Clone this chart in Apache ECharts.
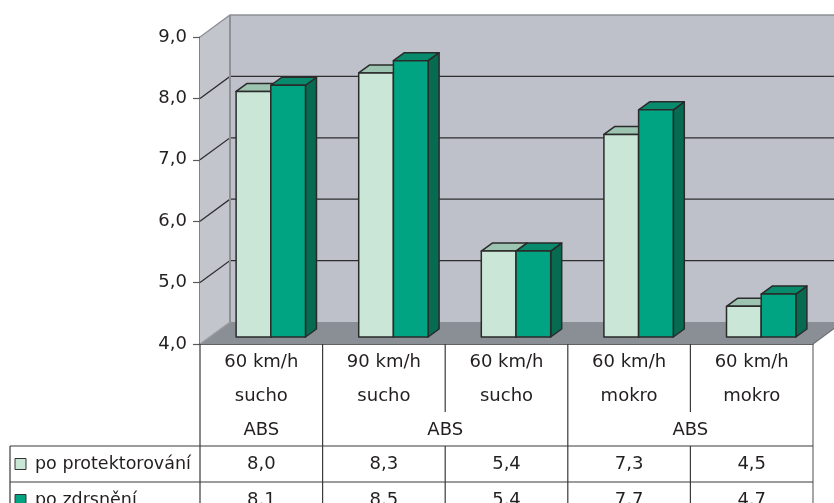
<!DOCTYPE html>
<html>
<head>
<meta charset="utf-8">
<script src="https://cdn.jsdelivr.net/npm/echarts@6/dist/echarts.min.js"></script>
<style>
  html, body { margin: 0; padding: 0; background: #ffffff; }
  #chart { width: 834px; height: 503px; }
</style>
</head>
<body>
<div id="chart"></div>
<script>
// Braking test results: five test conditions, two tyre states
const speeds = ['60 km/h', '90 km/h', '60 km/h', '60 km/h', '60 km/h'];
const surfaces = ['sucho', 'sucho', 'sucho', 'mokro', 'mokro'];
// ABS label spans (first and last category index of each group)
const absGroups = [[0, 0], [1, 2], [3, 4]];
const absLabel = 'ABS';
const seriesNames = ['po protektorování', 'po zdrsnění'];
const afterRetread = [8.0, 8.3, 5.4, 7.3, 4.5];
const afterRoughening = [8.1, 8.5, 5.4, 7.7, 4.7];
const yTicks = [4, 5, 6, 7, 8, 9];

const FONT = '"DejaVu Sans", Verdana, sans-serif';
const TEXT_COLOR = '#231f20';
const EDGE = '#2a2a2a';

// 3D look: wall depth and bar placement within that depth (pixels)
const WALL_DX = 30, WALL_DY = -22;
const BAR_DX = 9.5, BAR_DY = -7;
const BAR_DEPTH_X = 11, BAR_DEPTH_Y = -8;
const BAR_RATIO = 0.283;

const palettes = [
  { front: '#c9e6d6', top: '#9dc4b0', side: '#85b39c', key: '#c9e6d6' },
  { front: '#00a482', top: '#078b6c', side: '#066b51', key: '#00a482' }
];

const fmt = v => v.toFixed(1).replace('.', ',');

function wallsItem(params, api) {
  const cs = params.coordSys;
  const x = cs.x, y = cs.y, w = cs.width, h = cs.height;
  const dx = WALL_DX, dy = WALL_DY;
  const children = [];
  // back wall
  children.push({ type: 'polygon', shape: { points: [[x + dx, y + dy], [x + w + dx, y + dy], [x + w + dx, y + h + dy], [x + dx, y + h + dy]] },
    style: { fill: '#bfc1ca', stroke: null } });
  // left side wall
  children.push({ type: 'polygon', shape: { points: [[x, y], [x + dx, y + dy], [x + dx, y + h + dy], [x, y + h]] },
    style: { fill: '#c3c5cd', stroke: null } });
  // floor
  children.push({ type: 'polygon', shape: { points: [[x, y + h], [x + dx, y + h + dy], [x + w + dx, y + h + dy], [x + w, y + h]] },
    style: { fill: '#8a8f96', stroke: null } });
  // gridlines across side wall and back wall
  const top = yTicks[yTicks.length - 1];
  yTicks.forEach(t => {
    if (t === yTicks[0]) return;
    const py = api.coord([0, t])[1];
    const color = t === top ? '#8d9095' : '#2e2e2e';
    children.push({ type: 'polyline', shape: { points: [[x, py], [x + dx, py + dy], [x + w + dx, py + dy]] },
      style: { stroke: color, lineWidth: 1.3, fill: null } });
  });
  // back-left corner edge
  children.push({ type: 'line', shape: { x1: x + dx, y1: y + dy, x2: x + dx, y2: y + h + dy },
    style: { stroke: '#8d9095', lineWidth: 2 } });
  // floor side edges
  children.push({ type: 'line', shape: { x1: x, y1: y + h, x2: x + dx, y2: y + h + dy },
    style: { stroke: '#9a9da2', lineWidth: 1.2 } });
  children.push({ type: 'line', shape: { x1: x + w, y1: y + h, x2: x + w + dx, y2: y + h + dy },
    style: { stroke: '#6f7277', lineWidth: 1.2 } });
  return { type: 'group', children };
}

function barRenderer(slot) {
  const pal = palettes[slot];
  return function (params, api) {
    const cat = api.value(0), v = api.value(1);
    const topPt = api.coord([cat, v]);
    const basePt = api.coord([cat, yTicks[0]]);
    const band = api.size([1, 0])[0];
    const bw = band * BAR_RATIO;
    const x0 = topPt[0] - bw + slot * bw + BAR_DX;
    const x1 = x0 + bw;
    const yT = topPt[1] + BAR_DY;
    const yB = basePt[1] + BAR_DY;
    const ddx = BAR_DEPTH_X, ddy = BAR_DEPTH_Y;
    const st = { stroke: EDGE, lineWidth: 1.5, lineJoin: 'round' };
    return {
      type: 'group',
      children: [
        { type: 'polygon', shape: { points: [[x1, yT], [x1 + ddx, yT + ddy], [x1 + ddx, yB + ddy], [x1, yB]] },
          style: Object.assign({ fill: pal.side }, st) },
        { type: 'polygon', shape: { points: [[x0, yT], [x0 + ddx, yT + ddy], [x1 + ddx, yT + ddy], [x1, yT]] },
          style: Object.assign({ fill: pal.top }, st) },
        { type: 'rect', shape: { x: x0, y: yT, width: bw, height: yB - yT },
          style: Object.assign({ fill: pal.front }, st) }
      ]
    };
  };
}

function tableItem(params, api) {
  const cs = params.coordSys;
  const x = cs.x, w = cs.width;
  const y0 = cs.y + cs.height;          // top of the table = category axis line
  const band = w / speeds.length;
  const headerH = 102, splitH = 68, rowH = 36, lineH = 34;
  const left = 10;
  const bottom = y0 + headerH + rowH * 2;
  const ln = { stroke: '#3a3a3a', lineWidth: 1.2 };
  const children = [];
  const txt = (s, tx, ty, align, size) => ({ type: 'text',
    style: { text: s, x: tx, y: ty, font: (size || 18) + 'px ' + FONT, fill: TEXT_COLOR,
      textAlign: align || 'center', textVerticalAlign: 'middle', align: align || 'center', verticalAlign: 'middle' } });

  // outer verticals
  children.push({ type: 'line', shape: { x1: x, y1: y0, x2: x, y2: bottom }, style: ln });
  children.push({ type: 'line', shape: { x1: x + w, y1: y0, x2: x + w, y2: bottom }, style: Object.assign({}, ln, { stroke: '#6a6a6a' }) });
  children.push({ type: 'line', shape: { x1: left, y1: y0 + headerH, x2: left, y2: bottom }, style: ln });
  // column dividers: full height on ABS group boundaries, short inside a group
  const groupEnds = absGroups.map(g => g[1]);
  for (let i = 0; i < speeds.length - 1; i++) {
    const cx = x + (i + 1) * band;
    const full = groupEnds.indexOf(i) >= 0;
    children.push({ type: 'line', shape: { x1: cx, y1: y0, x2: cx, y2: full ? bottom : y0 + splitH }, style: ln });
    if (!full) children.push({ type: 'line', shape: { x1: cx, y1: y0 + headerH, x2: cx, y2: bottom }, style: ln });
  }
  // horizontal rules
  for (let r = 0; r <= 2; r++) {
    const ry = y0 + headerH + r * rowH;
    children.push({ type: 'line', shape: { x1: left, y1: ry, x2: x + w, y2: ry }, style: ln });
  }
  // category headers
  speeds.forEach((s, i) => {
    const cx = x + (i + 0.5) * band;
    children.push(txt(s, cx, y0 + 18));
    children.push(txt(surfaces[i], cx, y0 + 18 + lineH));
  });
  absGroups.forEach(g => {
    const cx = x + ((g[0] + g[1] + 1) / 2) * band;
    children.push(txt(absLabel, cx, y0 + 18 + lineH * 2));
  });
  // data rows with legend keys
  [afterRetread, afterRoughening].forEach((vals, r) => {
    const cy = y0 + headerH + rowH * (r + 0.5);
    children.push({ type: 'rect', shape: { x: 15, y: cy - 5.5, width: 11, height: 11 },
      style: { fill: palettes[r].key, stroke: '#333', lineWidth: 1 } });
    children.push(txt(seriesNames[r], 35, cy, 'left', 17.5));
    vals.forEach((v, i) => children.push(txt(fmt(v), x + (i + 0.5) * band, cy)));
  });
  return { type: 'group', children };
}

const chart = echarts.init(document.getElementById('chart'), null, { renderer: 'canvas' });
chart.setOption({
  animation: false,
  backgroundColor: '#ffffff',
  grid: { left: 200, right: 21, top: 37, bottom: 159, containLabel: false },
  xAxis: {
    type: 'category',
    data: speeds,
    axisLine: { show: true, lineStyle: { color: '#2e2e2e', width: 1.5 } },
    axisTick: { show: false },
    axisLabel: { show: false },
    splitLine: { show: false }
  },
  yAxis: {
    type: 'value',
    min: yTicks[0],
    max: yTicks[yTicks.length - 1],
    interval: 1,
    axisLine: { show: true, lineStyle: { color: '#5a5a5a', width: 1.5 } },
    axisTick: { show: true, length: 7, lineStyle: { color: '#5a5a5a', width: 1.2 } },
    axisLabel: { margin: 13, color: TEXT_COLOR, fontSize: 18, fontFamily: FONT, formatter: v => fmt(v) },
    splitLine: { show: false }
  },
  series: [
    { type: 'custom', name: 'walls', renderItem: wallsItem, data: [[0, yTicks[0]]], silent: true, z: 1 },
    { type: 'custom', name: seriesNames[0], renderItem: barRenderer(0),
      data: afterRetread.map((v, i) => [i, v]), z: 2 },
    { type: 'custom', name: seriesNames[1], renderItem: barRenderer(1),
      data: afterRoughening.map((v, i) => [i, v]), z: 3 },
    { type: 'custom', name: 'table', renderItem: tableItem, data: [[0, yTicks[0]]], silent: true, z: 4 }
  ]
});
</script>
</body>
</html>
